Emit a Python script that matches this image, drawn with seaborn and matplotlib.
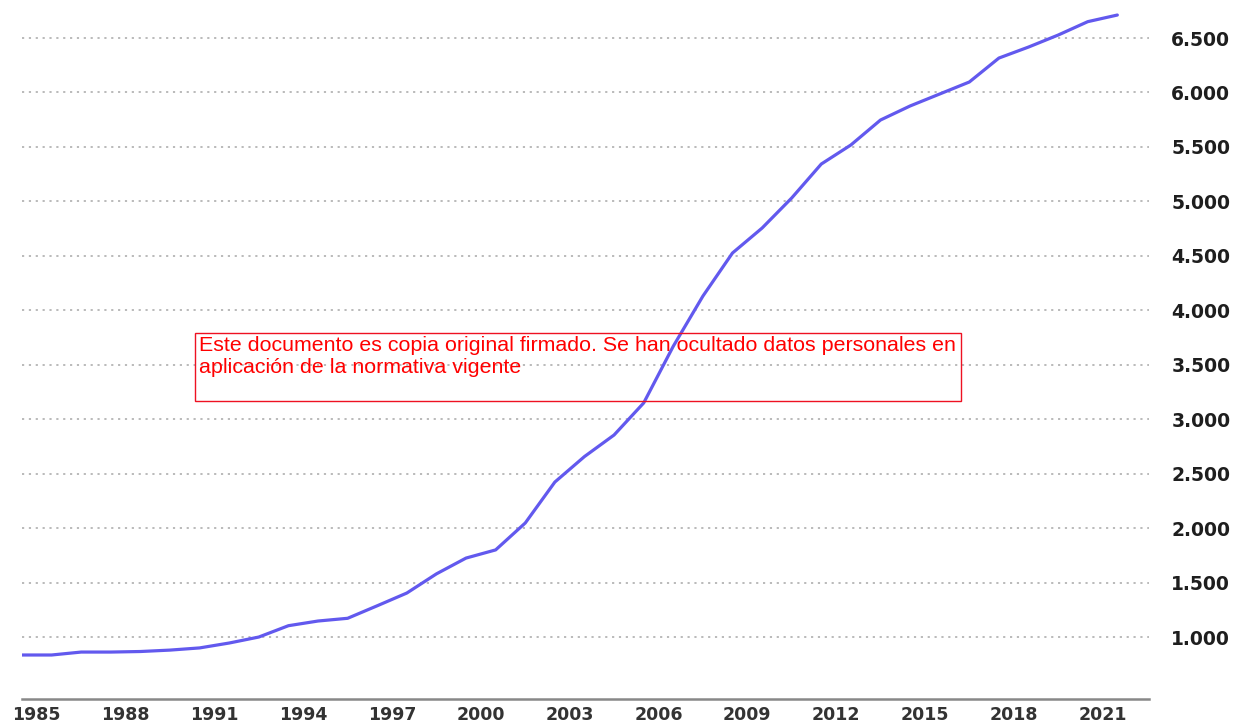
import matplotlib
matplotlib.use("Agg")
import matplotlib.pyplot as plt
import seaborn as sns
import pandas as pd
from matplotlib.ticker import FuncFormatter
from matplotlib.patches import Rectangle

# Yearly series (value at the start of each year)
years = list(range(1985, 2023))
values = [835, 835, 862, 862, 867, 880, 900, 945, 1000, 1104,
          1147, 1172, 1287, 1404, 1580, 1725, 1800, 2047, 2423, 2657,
          2855, 3149, 3670, 4130, 4526, 4755, 5031, 5343, 5518, 5747,
          5876, 5986, 6096, 6316, 6417, 6527, 6650, 6711]

label_years = list(range(1985, 2022, 3))
y_ticks = [1000, 1500, 2000, 2500, 3000, 3500, 4000, 4500, 5000, 5500, 6000, 6500]

notice = ("Este documento es copia original firmado. Se han ocultado datos personales en\n"
          "aplicación de la normativa vigente")

df = pd.DataFrame({"year": years, "value": values})

sns.set_theme(style="white")
plt.rcParams["font.family"] = ["DejaVu Sans"]

W, H = 1235, 727
fig = plt.figure(figsize=(W / 100, H / 100), dpi=100)
ax = fig.add_axes([22 / W, 28 / H, 1127 / W, 699 / H])

sns.lineplot(data=df, x="year", y="value", ax=ax, color="#6259ee",
             linewidth=2.3, zorder=3)

ax.set_xlim(1985, 2023.07)
ax.set_ylim(431, 6849)

# dotted horizontal grid
for v in y_ticks:
    ax.axhline(v, color="#b4b4b4", linewidth=1.3, linestyle=(0, (1.2, 2.6)), zorder=1)

# x axis: small ticks at each year, labels centred within the year
ax.set_xticks(years[1:])
ax.set_xticklabels([])
ax.tick_params(axis="x", which="major", length=4, width=1, color="#888888", direction="out")
ax.set_xticks([y + 0.5 for y in label_years], minor=True)
ax.set_xticklabels([str(y) for y in label_years], minor=True)
ax.tick_params(axis="x", which="minor", length=0, pad=5, labelsize=12.5, labelcolor="#333333")
for t in ax.get_xticklabels(minor=True):
    t.set_fontweight("bold")

# y axis on the right
ax.yaxis.tick_right()
ax.set_yticks(y_ticks)
ax.yaxis.set_major_formatter(FuncFormatter(lambda v, p: f"{int(v):,}".replace(",", ".")))
ax.tick_params(axis="y", length=0, pad=16, labelsize=13.5, labelcolor="#1e1e1e")
for t in ax.get_yticklabels():
    t.set_fontweight("bold")

ax.set_xlabel("")
ax.set_ylabel("")
for s in ["top", "left", "right"]:
    ax.spines[s].set_visible(False)
ax.spines["bottom"].set_color("#888888")
ax.spines["bottom"].set_linewidth(1.8)

# stamped notice with its frame
fig.add_artist(Rectangle((195 / W, 1 - 401 / H), 766 / W, 68 / H,
                         transform=fig.transFigure, fill=False,
                         edgecolor="#ee1122", linewidth=1.0, zorder=5))
fig.text(199 / W, 1 - 336 / H, notice, ha="left", va="top", color="#ff0000",
         fontsize=15.4, family=["Liberation Sans", "DejaVu Sans"], linespacing=1.22)

fig.savefig("out.png", dpi=100)
